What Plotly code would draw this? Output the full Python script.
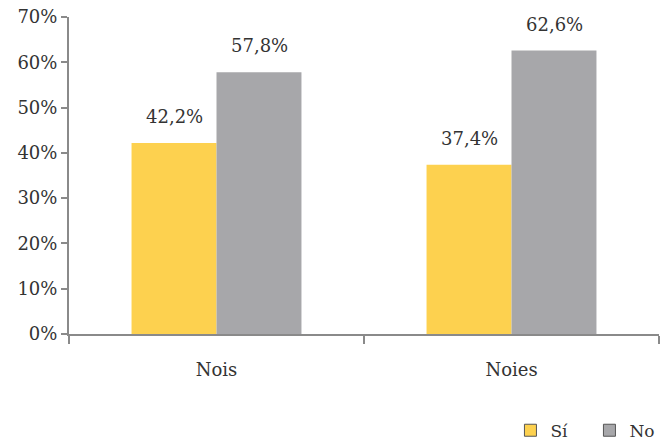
import plotly.graph_objects as go

categories = ["Nois", "Noies"]
series_names = ["Sí", "No"]
si_values = [42.2, 37.4]
no_values = [57.8, 62.6]
colors = ["#FDD14F", "#A7A7AA"]
y_ticks = [0, 10, 20, 30, 40, 50, 60, 70]
y_tick_labels = [f"{v}%" for v in y_ticks]

FONT = "DejaVu Serif"
TXT = "#333333"
AXIS = "#8a8a8a"
FS = 18

fig = go.Figure()
series = [si_values, no_values]
for name, vals, col in zip(series_names, series, colors):
    fig.add_trace(go.Bar(
        x=categories, y=vals, name=name, marker=dict(color=col, line=dict(width=0)),
        showlegend=False, hoverinfo="skip",
    ))
# legend entries (outlined swatches) on a hidden overlay axis
for name, col in zip(series_names, colors):
    fig.add_trace(go.Bar(
        x=categories, y=[None] * len(categories), name=name, xaxis="x2",
        marker=dict(color=col, line=dict(width=1, color="#555555")),
        showlegend=True,
    ))

# value labels
offsets = [-42.5, 42.5]
for vals, off in zip(series, offsets):
    for cat, v in zip(categories, vals):
        fig.add_annotation(
            x=cat, y=v, xref="x", yref="y", xshift=off, yshift=14,
            yanchor="bottom", showarrow=False,
            text=f"{v:.1f}%".replace(".", ","),
            font=dict(family=FONT, size=FS, color=TXT),
        )

fig.update_layout(
    width=661, height=442,
    margin=dict(l=69, r=2, t=17, b=108, autoexpand=False),
    paper_bgcolor="white", plot_bgcolor="white",
    barmode="group", bargap=0.424, bargroupgap=0,
    font=dict(family=FONT, size=FS, color=TXT),
    xaxis=dict(
        showgrid=False, showline=True, linecolor=AXIS, linewidth=2,
        ticks="outside", tickson="boundaries", ticklen=8, tickcolor=AXIS, tickwidth=1.5,
        ticklabelstandoff=18, automargin=False,
        tickfont=dict(family=FONT, size=FS, color=TXT),
    ),
    xaxis2=dict(overlaying="x", visible=False, matches="x"),
    yaxis=dict(
        range=[0, 70], tickvals=y_ticks, ticktext=y_tick_labels,
        showgrid=False, zeroline=False, showline=True, linecolor=AXIS, linewidth=2,
        ticks="outside", ticklen=6, tickcolor=AXIS, tickwidth=1.5, automargin=False,
        tickfont=dict(family=FONT, size=FS, color=TXT),
    ),
    legend=dict(
        orientation="h", x=1.016, xanchor="right", y=-0.305, yanchor="middle",
        font=dict(family=FONT, size=17, color=TXT), entrywidth=34,
        bgcolor="rgba(0,0,0,0)",
    ),
)

fig.write_html(
    "out.html",
    config={"displayModeBar": False},
    post_script="document.body.style.margin='0';document.body.style.overflow='hidden';",
)
